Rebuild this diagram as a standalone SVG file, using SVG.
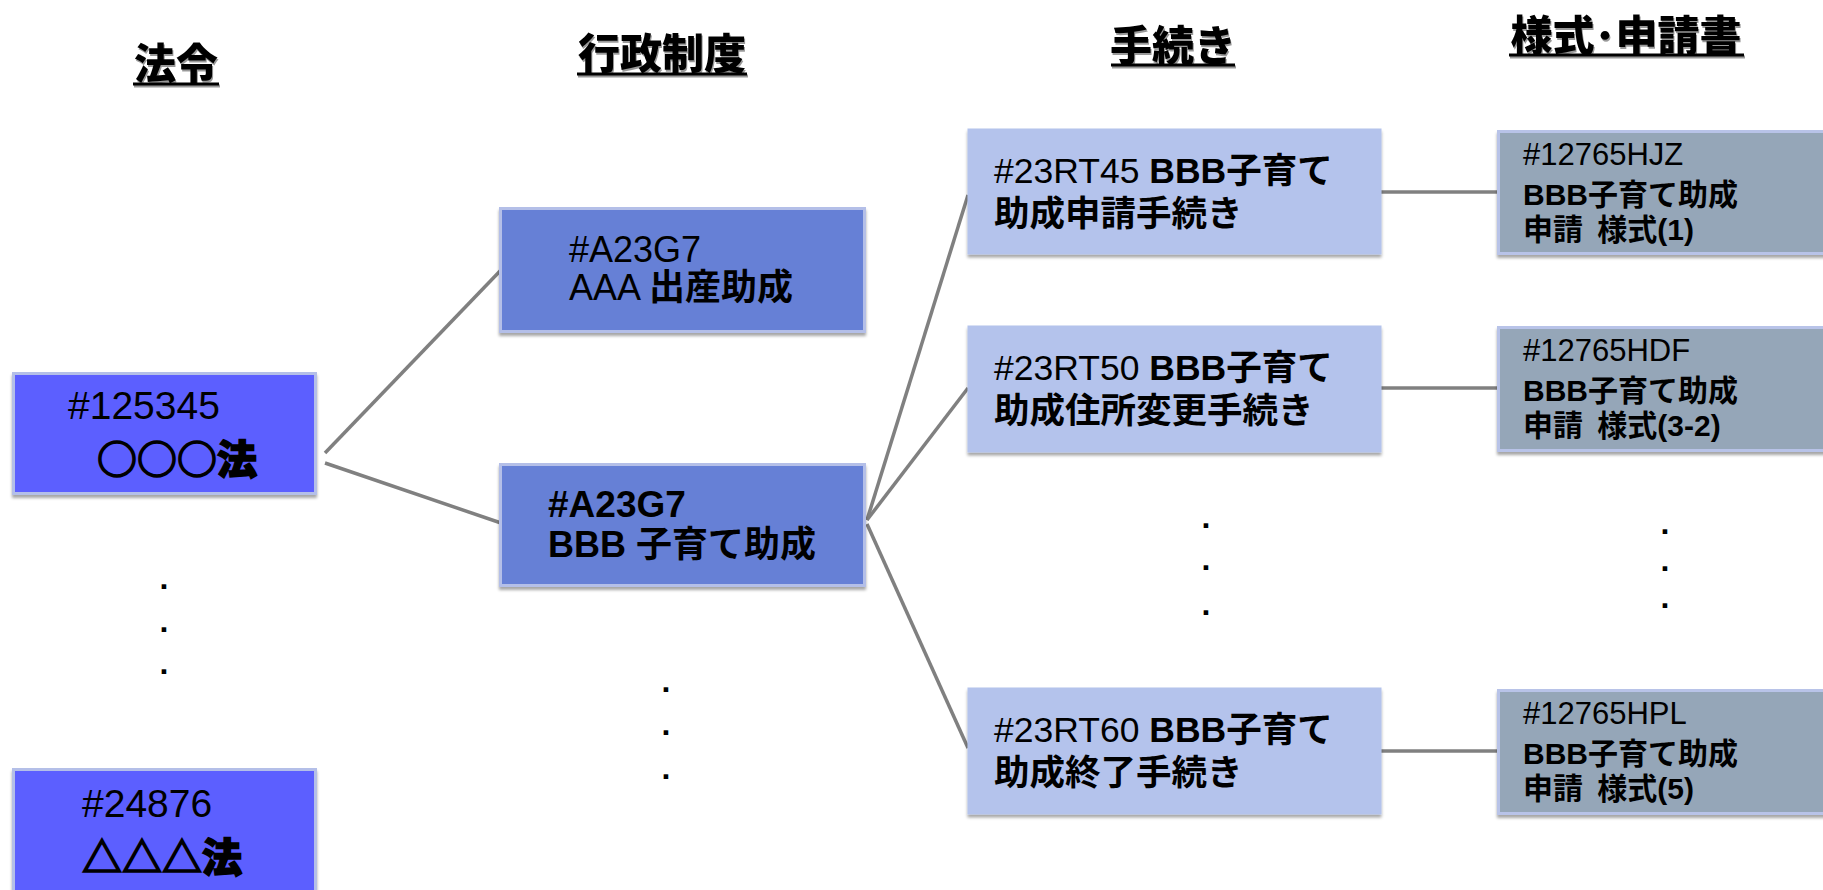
<svg xmlns="http://www.w3.org/2000/svg" width="1823" height="890" viewBox="0 0 1823 890">
<defs>
<filter id="sh" x="-5%" y="-5%" width="110%" height="120%">
<feDropShadow dx="0" dy="3" stdDeviation="1.5" flood-color="#000" flood-opacity="0.35"/>
</filter>
<filter id="tsh" x="-5%" y="-10%" width="110%" height="130%">
<feDropShadow dx="1" dy="2" stdDeviation="0.6" flood-color="#000" flood-opacity="0.4"/>
</filter>
<style>
text{font-family:"Liberation Sans","Noto Sans CJK JP",sans-serif;fill:#000}
.cjk{font-family:"Noto Sans CJK JP",sans-serif}
.b{font-weight:bold}
.heavy{font-weight:900;stroke:#000;stroke-width:1.6}
.head{font-family:"Noto Sans CJK JP",sans-serif;font-weight:900;font-size:42px;text-anchor:middle}
.ul{stroke:#000;stroke-width:3}
.law{fill:#5c5eff;stroke:#b4bfe8;stroke-width:3}
.sys{fill:#6680d6;stroke:#b4bfe8;stroke-width:3}
.proc{fill:#b4c3ec;stroke:#b4c3ec;stroke-width:1}
.form{fill:#95a6b8;stroke:#b8c3e8;stroke-width:3}
.conn{stroke:#808080;stroke-width:3.5;fill:none}
.dot{font-family:"Liberation Sans",sans-serif;font-weight:bold;font-size:32px;text-anchor:middle}
.t40{font-size:39px}
.t41{font-size:40px}
.t36{font-size:36px}
.t35{font-size:35.5px}
.t30{font-size:30px}
.t31{font-size:31px}
</style>
</defs>

<g id="headings" filter="url(#tsh)">
<text class="head" x="176" y="79">法令</text>
<line class="ul" x1="133" y1="84" x2="219" y2="84"/>
<text class="head" x="662" y="69">行政制度</text>
<line class="ul" x1="577" y1="74" x2="747" y2="74"/>
<text class="head" x="1173" y="61">手続き</text>
<line class="ul" x1="1111" y1="65" x2="1235" y2="65"/>
<text class="head" x="1626" y="51">様式･申請書</text>
<line class="ul" x1="1509" y1="55" x2="1744" y2="55"/>
</g>

<g id="connectors">
<line class="conn" x1="325" y1="453" x2="501" y2="270"/>
<line class="conn" x1="325" y1="463" x2="501" y2="523"/>
<line class="conn" x1="867" y1="520" x2="968" y2="195"/>
<line class="conn" x1="867" y1="520" x2="968" y2="388"/>
<line class="conn" x1="867" y1="524" x2="968" y2="748"/>
<line class="conn" x1="1381" y1="192" x2="1497" y2="192"/>
<line class="conn" x1="1381" y1="388" x2="1497" y2="388"/>
<line class="conn" x1="1381" y1="751" x2="1497" y2="751"/>
</g>

<g id="law-125345">
<rect class="law" x="13.5" y="373.5" width="302" height="120" filter="url(#sh)"/>
<text><tspan class="t40" x="68" y="419">#125345</tspan><tspan class="t41 cjk heavy" x="97" y="474">○○○法</tspan></text>
</g>

<g id="law-24876">
<rect class="law" x="13.5" y="769.5" width="302" height="130" filter="url(#sh)"/>
<text><tspan class="t40" x="82" y="817">#24876</tspan><tspan class="t41 cjk heavy" x="82" y="872">△△△法</tspan></text>
</g>

<g id="sys-aaa">
<rect class="sys" x="500.5" y="208.5" width="364" height="123" filter="url(#sh)"/>
<text class="t36"><tspan x="569" y="262">#A23G7</tspan><tspan x="569" y="300">AAA <tspan class="b">出産助成</tspan></tspan></text>
</g>

<g id="sys-bbb">
<rect class="sys" x="500.5" y="464.5" width="364" height="121" filter="url(#sh)"/>
<text class="t36 b"><tspan x="548" y="517" style="font-size:37px">#A23G7</tspan><tspan x="548" y="557">BBB 子育て助成</tspan></text>
</g>

<g id="proc-23RT45">
<rect class="proc" x="968" y="129" width="413" height="125" filter="url(#sh)"/>
<text class="t35"><tspan x="994" y="183">#23RT45 <tspan class="b">BBB子育て</tspan></tspan><tspan class="b" x="994" y="226">助成申請手続き</tspan></text>
</g>

<g id="proc-23RT50">
<rect class="proc" x="968" y="326" width="413" height="126" filter="url(#sh)"/>
<text class="t35"><tspan x="994" y="380">#23RT50 <tspan class="b">BBB子育て</tspan></tspan><tspan class="b" x="994" y="423">助成住所変更手続き</tspan></text>
</g>

<g id="proc-23RT60">
<rect class="proc" x="968" y="688" width="413" height="126" filter="url(#sh)"/>
<text class="t35"><tspan x="994" y="742">#23RT60 <tspan class="b">BBB子育て</tspan></tspan><tspan class="b" x="994" y="785">助成終了手続き</tspan></text>
</g>

<g id="form-HJZ">
<rect class="form" x="1498.5" y="131.5" width="340" height="122" filter="url(#sh)"/>
<text class="t30"><tspan class="t31" x="1523" y="165">#12765HJZ</tspan><tspan class="b" x="1523" y="205">BBB子育て助成</tspan><tspan class="b" x="1523" y="240">申請 <tspan dx="6">様式(1)</tspan></tspan></text>
</g>

<g id="form-HDF">
<rect class="form" x="1498.5" y="327.5" width="340" height="123" filter="url(#sh)"/>
<text class="t30"><tspan class="t31" x="1523" y="361">#12765HDF</tspan><tspan class="b" x="1523" y="401">BBB子育て助成</tspan><tspan class="b" x="1523" y="436">申請 <tspan dx="6">様式(3-2)</tspan></tspan></text>
</g>

<g id="form-HPL">
<rect class="form" x="1498.5" y="690.5" width="340" height="123" filter="url(#sh)"/>
<text class="t30"><tspan class="t31" x="1523" y="724">#12765HPL</tspan><tspan class="b" x="1523" y="764">BBB子育て助成</tspan><tspan class="b" x="1523" y="799">申請 <tspan dx="6">様式(5)</tspan></tspan></text>
</g>

<g id="ellipses">
<text class="dot"><tspan x="164" y="589">.</tspan><tspan x="164" y="632">.</tspan><tspan x="164" y="674">.</tspan></text>
<text class="dot"><tspan x="666" y="692">.</tspan><tspan x="666" y="735">.</tspan><tspan x="666" y="779">.</tspan></text>
<text class="dot"><tspan x="1206" y="528">.</tspan><tspan x="1206" y="570">.</tspan><tspan x="1206" y="615">.</tspan></text>
<text class="dot"><tspan x="1665" y="534">.</tspan><tspan x="1665" y="571">.</tspan><tspan x="1665" y="608">.</tspan></text>
</g>
</svg>
